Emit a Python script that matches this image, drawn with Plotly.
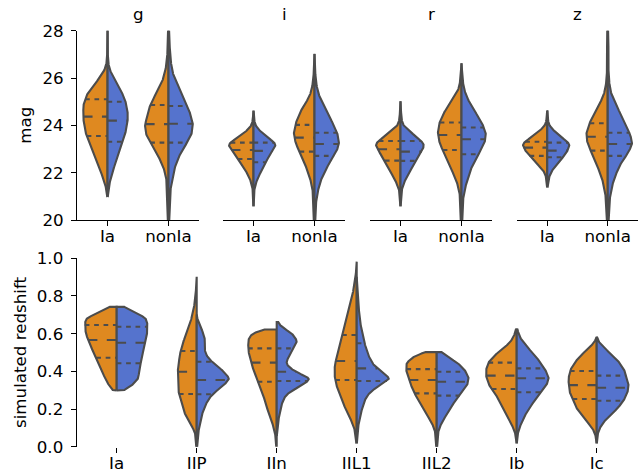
import numpy as np
import plotly.graph_objects as go

# ---------------- data ----------------
FILTERS = ["g", "i", "r", "z"]
CLASSES = ["Ia", "nonIa"]
TYPES = ["Ia", "IIP", "IIn", "IIL1", "IIL2", "Ib", "Ic"]
MAG_TICKS = [20, 22, 24, 26, 28]
Z_TICKS = [0.0, 0.2, 0.4, 0.6, 0.8, 1.0]

# magnitude bins (histogram grid) and counts; _A = orange half, _B = blue half
MAG_GRID = [19.6, 20.0, 20.4, 20.8, 21.2, 21.6, 22.0, 22.4, 22.8, 23.2, 23.6, 24.0,
            24.4, 24.8, 25.2, 25.6, 26.0, 26.4, 26.8, 27.2, 27.6, 28.0, 28.4]
G_IA_A = [0, 0, 0, 0, 2, 9, 20, 33, 45, 57, 67, 75, 77, 77, 70, 50, 25, 6, 1, 1, 1, 1, 0]
G_IA_B = [0, 0, 0, 0, 2, 7, 15, 25, 35, 45, 55, 63, 65, 62, 53, 37, 20, 5, 1, 1, 1, 1, 0]
G_NON_A = [1, 2, 2, 2, 3, 5, 10, 20, 35, 53, 68, 72, 65, 57, 43, 27, 15, 8, 4, 3, 3, 2, 1]
G_NON_B = [1, 2, 2, 3, 5, 10, 15, 23, 35, 53, 70, 75, 69, 57, 43, 30, 17, 10, 6, 4, 3, 2, 1]
I_IA_A = [0, 0, 0, 1, 1, 6, 18, 35, 55, 76, 30, 3, 1, 0, 0, 0, 0, 0, 0, 0, 0, 0, 0]
I_IA_B = [0, 0, 0, 1, 1, 7, 19, 32, 48, 68, 28, 3, 1, 0, 0, 0, 0, 0, 0, 0, 0, 0, 0]
I_NON_A = [1, 2, 2, 3, 5, 10, 20, 30, 43, 57, 65, 60, 50, 35, 15, 7, 3, 2, 1, 0, 0, 0, 0]
I_NON_B = [1, 2, 3, 5, 10, 17, 30, 45, 65, 77, 72, 60, 45, 30, 15, 7, 3, 2, 1, 0, 0, 0, 0]
R_IA_A = [0, 0, 0, 1, 2, 12, 27, 40, 57, 77, 40, 5, 2, 1, 0, 0, 0, 0, 0, 0, 0, 0, 0]
R_IA_B = [0, 0, 0, 1, 2, 10, 25, 40, 58, 72, 38, 5, 2, 1, 0, 0, 0, 0, 0, 0, 0, 0, 0]
R_NON_A = [1, 2, 2, 3, 6, 13, 25, 37, 50, 63, 70, 67, 57, 40, 20, 6, 3, 1, 0, 0, 0, 0, 0]
R_NON_B = [1, 2, 2, 4, 8, 15, 23, 35, 50, 67, 73, 63, 47, 30, 15, 6, 3, 1, 0, 0, 0, 0, 0]
Z_IA_A = [0, 0, 0, 0, 0, 1, 5, 30, 55, 75, 35, 3, 1, 0, 0, 0, 0, 0, 0, 0, 0, 0, 0]
Z_IA_B = [0, 0, 0, 0, 0, 2, 8, 30, 52, 68, 30, 3, 1, 0, 0, 0, 0, 0, 0, 0, 0, 0, 0]
Z_NON_A = [1, 2, 3, 4, 8, 13, 23, 33, 45, 58, 63, 55, 43, 28, 13, 6, 3, 2, 2, 2, 2, 2, 1]
Z_NON_B = [1, 2, 3, 5, 9, 15, 25, 37, 57, 72, 65, 52, 39, 27, 12, 6, 3, 2, 2, 2, 2, 2, 1]

# quartiles (Q1, median, Q3)
G_IA_QA, G_IA_QB = [23.55, 24.37, 25.10], [23.31, 24.20, 25.00]
G_NON_QA, G_NON_QB = [23.27, 24.05, 24.86], [23.27, 24.07, 24.82]
I_IA_QA, I_IA_QB = [22.58, 22.96, 23.27], [22.44, 22.92, 23.27]
I_NON_QA, I_NON_QB = [22.89, 23.48, 24.02], [22.71, 23.21, 23.69]
R_IA_QA, R_IA_QB = [22.51, 22.99, 23.34], [22.50, 22.89, 23.34]
R_NON_QA, R_NON_QB = [22.96, 23.59, 24.12], [22.78, 23.41, 23.91]
Z_IA_QA, Z_IA_QB = [22.71, 23.06, 23.31], [22.65, 22.93, 23.27]
Z_NON_QA, Z_NON_QB = [22.93, 23.52, 24.09], [22.71, 23.21, 23.69]

# redshift bins and counts
Z_GRID = [0.00, 0.04, 0.08, 0.12, 0.16, 0.20, 0.24, 0.28, 0.32, 0.36, 0.40, 0.44, 0.48,
          0.52, 0.56, 0.60, 0.64, 0.68, 0.72, 0.76, 0.80, 0.84, 0.88, 0.92, 0.96, 1.00]
IA_A = [0, 0, 0, 0, 0, 0, 0, 0, 20, 32, 40, 48, 58, 68, 78, 85, 88, 88, 40, 0, 0, 0, 0, 0, 0, 0]
IA_B = [0, 0, 0, 0, 0, 0, 0, 0, 40, 60, 62, 65, 70, 75, 80, 83, 85, 84, 45, 0, 0, 0, 0, 0, 0, 0]
IIP_A = [1, 2, 5, 18, 32, 38, 45, 52, 53, 55, 55, 52, 50, 45, 38, 30, 22, 15, 10, 6, 3, 2, 1, 0, 0, 0]
IIP_B = [1, 2, 5, 9, 14, 20, 30, 45, 75, 98, 78, 50, 28, 22, 25, 20, 10, 1, 0, 0, 0, 0, 0, 0, 0, 0]
IIN_A = [1, 2, 5, 10, 20, 24, 30, 37, 45, 53, 60, 66, 72, 75, 75, 70, 0, 0, 0, 0, 0, 0, 0, 0, 0, 0]
IIN_B = [0, 0, 1, 3, 6, 10, 15, 25, 60, 95, 45, 22, 32, 45, 55, 42, 8, 0, 0, 0, 0, 0, 0, 0, 0, 0]
IIL1_A = [0, 2, 4, 10, 20, 30, 38, 45, 53, 58, 60, 58, 53, 48, 43, 38, 33, 28, 22, 17, 12, 8, 4, 2, 1, 0]
IIL1_B = [0, 1, 2, 5, 9, 14, 20, 30, 55, 95, 62, 42, 32, 25, 20, 15, 11, 8, 6, 5, 4, 3, 1, 0, 0, 0]
IIL2_A = [1, 2, 4, 12, 25, 40, 52, 63, 73, 82, 88, 90, 70, 0, 0, 0, 0, 0, 0, 0, 0, 0, 0, 0, 0, 0]
IIL2_B = [1, 2, 4, 12, 25, 38, 52, 70, 88, 95, 85, 65, 30, 0, 0, 0, 0, 0, 0, 0, 0, 0, 0, 0, 0, 0]
IB_A = [0, 1, 5, 15, 27, 38, 48, 62, 78, 88, 90, 85, 68, 40, 15, 5, 0, 0, 0, 0, 0, 0, 0, 0, 0, 0]
IB_B = [0, 1, 4, 12, 22, 35, 50, 68, 85, 95, 85, 72, 55, 35, 15, 5, 0, 0, 0, 0, 0, 0, 0, 0, 0, 0]
IC_A = [0, 1, 6, 22, 42, 58, 68, 78, 83, 83, 80, 68, 50, 25, 3, 0, 0, 0, 0, 0, 0, 0, 0, 0, 0, 0]
IC_B = [0, 1, 4, 15, 35, 60, 78, 90, 95, 90, 83, 70, 50, 25, 3, 0, 0, 0, 0, 0, 0, 0, 0, 0, 0, 0]

IA_QA, IA_QB = [0.472, 0.566, 0.646], [0.443, 0.552, 0.637]
IIP_QA, IIP_QB = [0.280, 0.398, 0.508], [0.278, 0.354, 0.451]
IIN_QA, IIN_QB = [0.345, 0.446, 0.522], [0.349, 0.398, 0.522]
IIL1_QA, IIL1_QB = [0.354, 0.455, 0.593], [0.349, 0.416, 0.549]
IIL2_QA, IIL2_QB = [0.283, 0.354, 0.412], [0.271, 0.345, 0.398]
IB_QA, IB_QB = [0.306, 0.377, 0.446], [0.289, 0.363, 0.416]
IC_QA, IC_QB = [0.253, 0.327, 0.402], [0.244, 0.313, 0.377]

TOP = {
    "g": [(G_IA_A, G_IA_B, G_IA_QA, G_IA_QB), (G_NON_A, G_NON_B, G_NON_QA, G_NON_QB)],
    "i": [(I_IA_A, I_IA_B, I_IA_QA, I_IA_QB), (I_NON_A, I_NON_B, I_NON_QA, I_NON_QB)],
    "r": [(R_IA_A, R_IA_B, R_IA_QA, R_IA_QB), (R_NON_A, R_NON_B, R_NON_QA, R_NON_QB)],
    "z": [(Z_IA_A, Z_IA_B, Z_IA_QA, Z_IA_QB), (Z_NON_A, Z_NON_B, Z_NON_QA, Z_NON_QB)],
}
BOTTOM = [
    (IA_A, IA_B, IA_QA, IA_QB), (IIP_A, IIP_B, IIP_QA, IIP_QB), (IIN_A, IIN_B, IIN_QA, IIN_QB),
    (IIL1_A, IIL1_B, IIL1_QA, IIL1_QB), (IIL2_A, IIL2_B, IIL2_QA, IIL2_QB),
    (IB_A, IB_B, IB_QA, IB_QB), (IC_A, IC_B, IC_QA, IC_QB),
]

# ---------------- style ----------------
W, H = 643, 472
ORANGE = "#df8920"
BLUE = "#5573cd"
EDGE = "#4c4c4c"
FONT = dict(family="DejaVu Sans", size=16.7, color="black")
HALF = 0.4


def kde(grid, counts, y, bw):
    g = np.asarray(grid, float)
    c = np.asarray(counts, float)
    y = np.atleast_1d(np.asarray(y, float))
    return (c[None, :] * np.exp(-0.5 * ((y[:, None] - g[None, :]) / bw) ** 2)).sum(1)


def support(grid, counts, bw, cut=1.0):
    nz = [g for g, c in zip(grid, counts) if c > 0]
    return min(nz) - cut * bw, max(nz) + cut * bw


fig = go.Figure()


def add_violin(xa, ya, pos, grid, ca, cb, qa, qb, bw):
    halves = []
    for c in (ca, cb):
        lo, hi = support(grid, c, bw)
        y = np.linspace(lo, hi, 400)
        halves.append((y, kde(grid, c, y, bw)))
    scale = HALF / max(halves[0][1].max(), halves[1][1].max())
    for (y, d), sign, color in zip(halves, (-1, 1), (ORANGE, BLUE)):
        x = pos + sign * d * scale
        xs = np.concatenate([[pos], x, [pos, pos]])
        ys = np.concatenate([[y[0]], y, [y[-1], y[0]]])
        fig.add_trace(go.Scatter(x=xs, y=ys, mode="lines", fill="toself", fillcolor=color,
                                 line=dict(color=EDGE, width=2.1), xaxis=xa, yaxis=ya,
                                 hoverinfo="skip", showlegend=False))
    for c, q, sign in ((ca, qa, -1), (cb, qb, 1)):
        for k, qv in enumerate(q):
            w = kde(grid, c, qv, bw)[0] * scale
            xs = [pos - w, pos] if sign < 0 else [pos, pos + w]
            dash = "9.4px,9.4px" if k == 1 else "4.7px,4.7px"
            fig.add_trace(go.Scatter(x=xs, y=[qv, qv], mode="lines",
                                     line=dict(color=EDGE, width=2.1, dash=dash),
                                     xaxis=xa, yaxis=ya, hoverinfo="skip", showlegend=False))


top_dom_px = [(77, 199), (223, 345), (370, 492), (517, 638)]
top_y = [(H - 220) / H, (H - 30.7) / H]
bot_y = [(H - 446.7) / H, (H - 258.3) / H]

layout = dict(width=W, height=H, margin=dict(l=0, r=0, t=0, b=0, autoexpand=False),
              paper_bgcolor="white", plot_bgcolor="white", font=FONT, showlegend=False)
annotations = []
axis_common = dict(showgrid=False, zeroline=False, ticks="outside", ticklen=5, tickwidth=1.1,
                   tickcolor="black", linecolor="black", linewidth=1.1, tickfont=FONT,
                   fixedrange=True, automargin=False)
x_common = dict(axis_common, ticklabelstandoff=-4)
y_common = dict(axis_common, ticklabelstandoff=4)

for i, f in enumerate(FILTERS):
    n = i + 1
    xa = "x" if n == 1 else f"x{n}"
    ya = "y" if n == 1 else f"y{n}"
    x0, x1 = top_dom_px[i]
    layout["xaxis" if n == 1 else f"xaxis{n}"] = dict(
        x_common, domain=[x0 / W, x1 / W], range=[-0.5, 1.5], tickvals=[0, 1],
        ticktext=CLASSES, showline=True, anchor=ya)
    if n == 1:
        layout["yaxis"] = dict(y_common, domain=top_y, range=[20, 28], tickvals=MAG_TICKS,
                               ticktext=[str(t) for t in MAG_TICKS], showline=True, anchor=xa)
    else:
        layout[f"yaxis{n}"] = dict(domain=top_y, range=[20, 28], visible=False, anchor=xa,
                                   fixedrange=True, automargin=False)
    for ci, (ca, cb, qa, qb) in enumerate(TOP[f]):
        add_violin(xa, ya, ci, MAG_GRID, ca, cb, qa, qb, 0.22)
    annotations.append(dict(text=f, x=(x0 + x1) / 2 / W, y=(H - 14) / H, xref="paper",
                            yref="paper", xanchor="center", yanchor="middle", showarrow=False,
                            font=FONT))

layout["xaxis5"] = dict(x_common, domain=[76.7 / W, 636.7 / W], range=[-0.5, 6.5],
                        tickvals=list(range(len(TYPES))), ticktext=TYPES, showline=False,
                        anchor="y5")
layout["yaxis5"] = dict(y_common, domain=bot_y, range=[0, 1], tickvals=Z_TICKS,
                        ticktext=[f"{t:.1f}" for t in Z_TICKS], showline=True, anchor="x5")
for ci, (ca, cb, qa, qb) in enumerate(BOTTOM):
    add_violin("x5", "y5", ci, Z_GRID, ca, cb, qa, qb, 0.022)

annotations.append(dict(text="mag", x=25.5 / W, y=(H - 125.3) / H, xref="paper", yref="paper",
                        xanchor="center", yanchor="middle", textangle=-90, showarrow=False,
                        font=FONT))
annotations.append(dict(text="simulated redshift", x=19.5 / W, y=(H - 352.5) / H, xref="paper",
                        yref="paper", xanchor="center", yanchor="middle", textangle=-90,
                        showarrow=False, font=FONT))
layout["annotations"] = annotations
fig.update_layout(**layout)
fig.write_html("out.html", config={"displayModeBar": False},
               post_script="document.body.style.margin='0';document.body.style.overflow='hidden';")
